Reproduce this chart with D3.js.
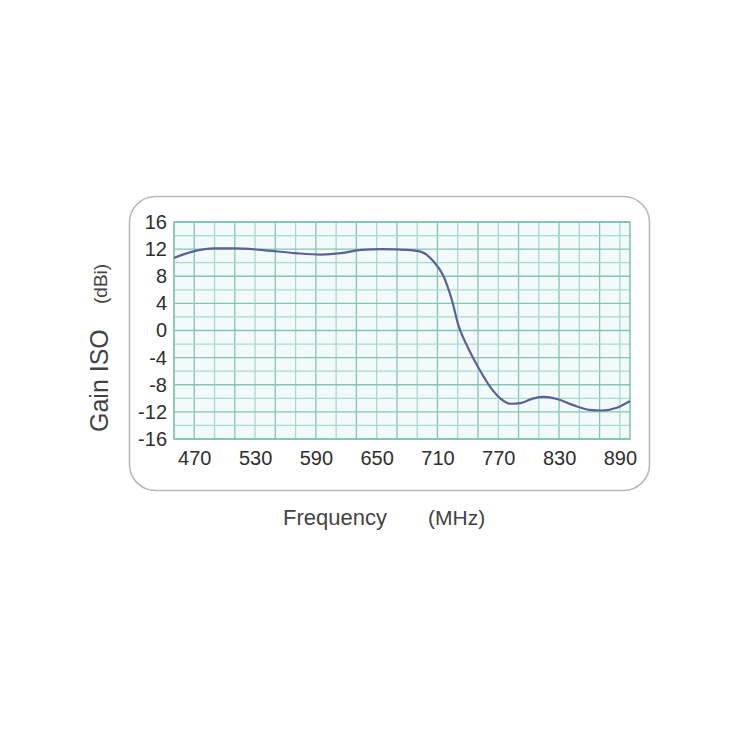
<!DOCTYPE html>
<html><head><meta charset="utf-8">
<script src="https://cdn.jsdelivr.net/npm/d3@7/dist/d3.min.js"></script>
<style>
html,body{margin:0;padding:0;background:#fff;}
svg{display:block;}
text{font-family:"Liberation Sans",Arial,sans-serif;}
</style></head>
<body>
<svg id="c" width="729" height="729"></svg>
<script>
const freq = [450, 470, 490, 510, 535, 570, 595, 615, 635, 655, 680, 694, 706, 716, 724, 731, 740, 752, 762, 772, 782, 792, 805, 815, 828, 844, 860, 872, 887, 900];
const gain = [10.7, 11.7, 12.1, 12.1, 11.9, 11.4, 11.2, 11.4, 11.9, 12.0, 11.9, 11.6, 10.2, 8.0, 4.6, 0.6, -2.5, -5.9, -8.3, -10.0, -10.8, -10.7, -10.0, -9.8, -10.1, -11.0, -11.7, -11.8, -11.4, -10.4];
const xTicks = [470, 530, 590, 650, 710, 770, 830, 890];
const yTicks = [16, 12, 8, 4, 0, -4, -8, -12, -16];
const xGrid = d3.range(450, 901, 20);
const yGrid = d3.range(-16, 17, 2);

const svg = d3.select("#c");
const L = 174, R = 630, T = 222, B = 439;
const x = d3.scaleLinear().domain([450, 900]).range([L, R]);
const y = d3.scaleLinear().domain([-16, 16]).range([B, T]);

// rounded frame
svg.append("rect").attr("x", 129.5).attr("y", 196.5).attr("width", 520).attr("height", 294)
  .attr("rx", 26).attr("ry", 26).attr("fill", "#fff").attr("stroke", "#b9b9b9").attr("stroke-width", 1.6);

// plot background
svg.append("rect").attr("x", L).attr("y", T).attr("width", R - L).attr("height", B - T)
  .attr("fill", "#f2fbfa");

// grid
const g = svg.append("g");
g.selectAll("line.v").data(xGrid).join("line")
  .attr("x1", d => x(d)).attr("x2", d => x(d)).attr("y1", T).attr("y2", B)
  .attr("stroke", (d, i) => i % 2 ? "#86c3b3" : "#a9d8cc").attr("stroke-width", 1.3);
g.selectAll("line.h").data(yGrid).join("line")
  .attr("y1", d => y(d)).attr("y2", d => y(d)).attr("x1", L).attr("x2", R)
  .attr("stroke", (d, i) => i % 2 ? "#a9d8cc" : "#86c3b3").attr("stroke-width", 1.3);
svg.append("rect").attr("x", L).attr("y", T).attr("width", R - L).attr("height", B - T)
  .attr("fill", "none").attr("stroke", "#80c0b0").attr("stroke-width", 1.5);

// axes
const fmt = d => String(d);
const ax = svg.append("g").attr("transform", `translate(0,${B})`)
  .call(d3.axisBottom(x).tickValues(xTicks).tickFormat(fmt).tickSize(0).tickPadding(12));
ax.select(".domain").remove();
ax.selectAll("text").attr("font-size", 20).attr("fill", "#2e2e2e").style("font-family", "Liberation Sans, Arial, sans-serif");

const ay = svg.append("g").attr("transform", `translate(${L},0)`)
  .call(d3.axisLeft(y).tickValues(yTicks).tickFormat(fmt).tickSize(0).tickPadding(7));
ay.select(".domain").remove();
ay.selectAll("text").attr("font-size", 20).attr("fill", "#2e2e2e").style("font-family", "Liberation Sans, Arial, sans-serif");

// curve
const line = d3.line().x(d => x(d[0])).y(d => y(d[1])).curve(d3.curveMonotoneX);
svg.append("path").datum(freq.map((f, i) => [f, gain[i]]))
  .attr("d", line).attr("fill", "none").attr("stroke", "#5b6098").attr("stroke-width", 2.2);

// axis titles
svg.append("text").attr("x", 283).attr("y", 525).attr("font-size", 22).attr("fill", "#444").text("Frequency");
svg.append("text").attr("x", 428).attr("y", 525).attr("font-size", 21).attr("fill", "#444").text("(MHz)");
svg.append("text").attr("transform", "translate(108,432) rotate(-90)").attr("font-size", 25).attr("fill", "#444").text("Gain ISO");
svg.append("text").attr("transform", "translate(107,304) rotate(-90)").attr("font-size", 19).attr("fill", "#444").text("(dBi)");
</script>
</body></html>
